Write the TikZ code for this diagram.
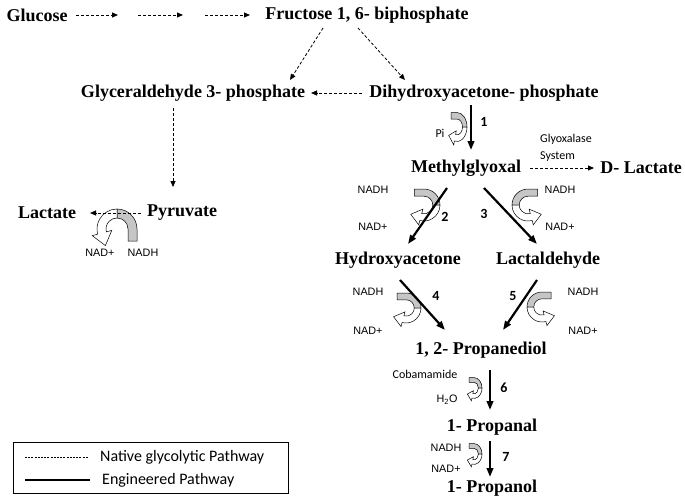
\documentclass[tikz,border=0pt]{standalone}
\usepackage{fontspec}
\setmainfont{Liberation Serif}
\newfontfamily\arialfont{Liberation Sans}
\newfontfamily\califont{Carlito}
\usetikzlibrary{arrows.meta,calc}
% curved cofactor arrow: gray tail, white head (#1 centre, #2 radius, #3 extra transform)
\newcommand{\cofactor}[3]{%
  \begin{scope}[shift={#1}, x=#2pt, y=#2pt, #3]
    \filldraw[fill=gray!45, line width=0.5pt] (-0.6,1) -- (0,1) arc[start angle=90, end angle=0, radius=1]
      -- (0.55,0) arc[start angle=0, end angle=90, radius=0.55] -- (-0.6,0.55) -- cycle;
    \filldraw[fill=white, line width=0.5pt] (1,0) arc[start angle=0, end angle=-105, radius=1]
      -- (-105:1.28) -- (-0.83,-0.58) -- (-105:0.27) -- (-105:0.55)
      arc[start angle=-105, end angle=0, radius=0.55] -- cycle;
  \end{scope}}

\begin{document}
\begin{tikzpicture}[x=1pt,y=-1pt,
  chem/.style={font=\fontsize{18}{20}\selectfont\bfseries, inner sep=0pt},
  cof/.style={font=\arialfont\fontsize{10.8}{12}\selectfont, inner sep=0pt},
  note/.style={font=\califont\fontsize{12}{17}\selectfont, inner sep=0pt},
  num/.style={font=\califont\bfseries\fontsize{14}{16}\selectfont, inner sep=0pt},
  native/.style={-{Triangle[length=6pt,width=5pt]}, line width=0.8pt, dash pattern=on 3pt off 2pt},
  eng/.style={-{Triangle[length=9pt,width=6.5pt]}, line width=2.2pt}]
  \useasboundingbox (0,0) rectangle (685,503);
  % metabolites
  \node[chem] (glucose)   at (37,15)   {Glucose};
  \node[chem] (fructose)  at (367,15)  {Fructose 1, 6- biphosphate};
  \node[chem] (gap)       at (193,93)  {Glyceraldehyde 3- phosphate};
  \node[chem] (dhap)      at (484,93)  {Dihydroxyacetone- phosphate};
  \node[chem] (pyruvate)  at (182,213) {Pyruvate};
  \node[chem] (lactate)   at (47,213)  {Lactate};
  \node[chem] (mg)        at (466,168) {Methylglyoxal};
  \node[chem] (dlactate)  at (641,168) {D- Lactate};
  \node[chem] (hyac)      at (398,260) {Hydroxyacetone};
  \node[chem] (lald)      at (548,260) {Lactaldehyde};
  \node[chem] (pdo)       at (481,350) {1, 2- Propanediol};
  \node[chem] (propanal)  at (492,427) {1- Propanal};
  \node[chem] (propanol)  at (492,488) {1- Propanol};
  \coordinate (g1) at (118,15);
  \coordinate (g2) at (138,15);
  \coordinate (g3) at (183,15);
  \coordinate (g4) at (205,15);

  % cofactors
  \cofactor{(117,229)}{20}{xscale=-1, rotate=90}
  \cofactor{(457,127)}{10}{yscale=1.45}
  \cofactor{(424,205)}{16}{}
  \cofactor{(528,205)}{16}{xscale=-1}
  \cofactor{(406,308)}{15}{}
  \cofactor{(542,307)}{15}{xscale=-1}
  \cofactor{(474,388)}{8}{yscale=1.3}
  \cofactor{(474,454)}{8}{yscale=1.3}
  \node[cof] (nadp0) at (100,253) {NAD+};
  \node[cof] (nadh0) at (143,253) {NADH};
  \node[note] (pi) at (440,133) {Pi};
  \node[note, anchor=west, align=left] (glyox) at (540,148) {Glyoxalase\\System};
  \node[cof] (nadh2) at (373,190) {NADH};
  \node[cof] (nadp2) at (373,227) {NAD+};
  \node[cof] (nadh3) at (560,190) {NADH};
  \node[cof] (nadp3) at (560,227) {NAD+};
  \node[cof] (nadh4) at (368,292) {NADH};
  \node[cof] (nadp4) at (368,331) {NAD+};
  \node[cof] (nadh5) at (583,292) {NADH};
  \node[cof] (nadp5) at (583,331) {NAD+};
  \node[note] (coba) at (425,374) {Cobamamide};
  \node[cof] (water) at (447,400) {H\textsubscript{2}O};
  \node[cof] (nadh7) at (446,448) {NADH};
  \node[cof] (nadp7) at (446,469) {NAD+};

  % step numbers
  \node[num] (n1) at (484,122) {1};
  \node[num] (n2) at (445,217) {2};
  \node[num] (n3) at (484,214) {3};
  \node[num] (n4) at (436,296) {4};
  \node[num] (n5) at (513,296) {5};
  \node[num] (n6) at (504,388) {6};
  \node[num] (n7) at (506,457) {7};

  % native glycolytic pathway
  \draw[native] ($(glucose)+(39,0)$) -- (g1);
  \draw[native] (g2) -- (g3);
  \draw[native] (g4) -- ($(fructose)+(-117,0)$);
  \draw[native] ($(fructose)+(-44,13)$) -- ($(gap)+(97,-13)$);
  \draw[native] ($(fructose)+(-9,13)$) -- ($(dhap)+(-79,-13)$);
  \draw[native] ($(dhap)+(-122,0)$) -- ($(gap)+(118,0)$);
  \draw[native] ($(gap)+(-20,15)$) -- ($(pyruvate)+(-9,-26)$);
  \draw[native] ($(pyruvate)+(-41,0)$) -- ($(lactate)+(43,0)$);
  \draw[native] ($(mg)+(64,0)$) -- ($(dlactate)+(-47,0)$);

  % engineered pathway
  \draw[eng] ($(dhap)+(-13,12)$) -- ($(mg)+(5,-18)$);
  \draw[eng] ($(mg)+(-19,20)$) -- ($(hyac)+(10,-16)$);
  \draw[eng] ($(mg)+(18,20)$) -- ($(lald)+(-11,-16)$);
  \draw[eng] ($(hyac)+(2,20)$) -- ($(pdo)+(-36,-20)$);
  \draw[eng] ($(lald)+(-11,20)$) -- ($(pdo)+(22,-20)$);
  \draw[eng] ($(pdo)+(9,20)$) -- ($(propanal)+(-2,-17)$);
  \draw[eng] ($(propanal)+(-2,14)$) -- ($(propanol)+(-2,-11)$);

  % legend
  \draw[line width=0.8pt] (13,442) rectangle (288,493);
  \node[note, font=\califont\fontsize{16}{18}\selectfont, anchor=west] (leg1) at (100,457) {Native glycolytic Pathway};
  \node[note, font=\califont\fontsize{16}{18}\selectfont, anchor=west] (leg2) at (102,480) {Engineered Pathway};
  \draw[line width=0.6pt, dash pattern=on 2pt off 1.2pt] ($(leg1.west)+(-75,0)$) -- ($(leg1.west)+(-12,0)$);
  \draw[line width=2.2pt] ($(leg2.west)+(-77,0)$) -- ($(leg2.west)+(-12,0)$);
\end{tikzpicture}
\end{document}
